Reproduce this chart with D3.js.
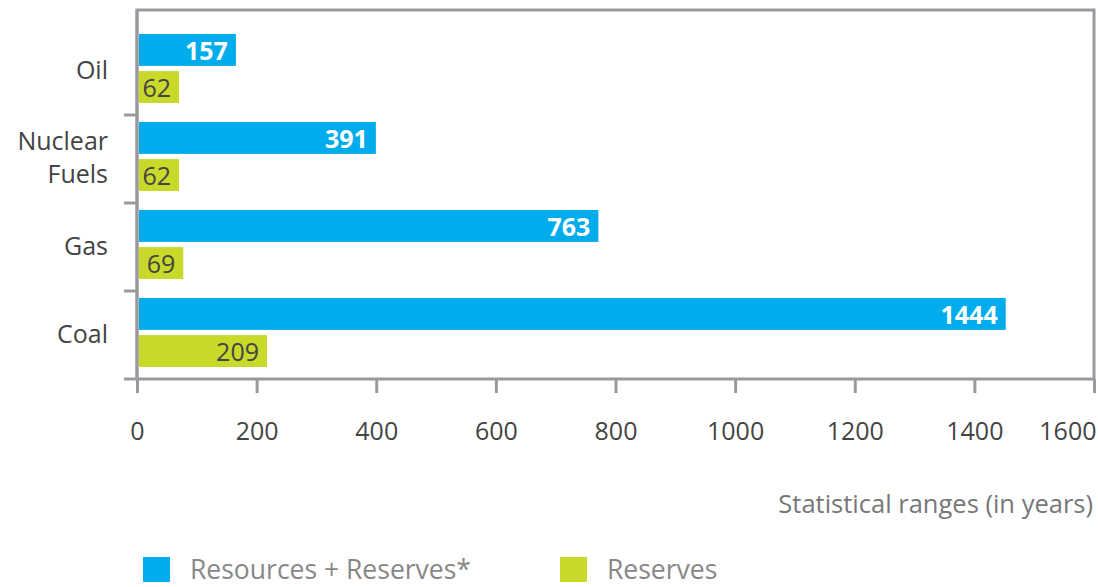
<!DOCTYPE html>
<html>
<head>
<meta charset="utf-8">
<script src="https://cdn.jsdelivr.net/npm/d3@7"></script>
<style>
  body { margin: 0; background: #fff; }
  svg text { font-family: "Open Sans", "Noto Sans", sans-serif; }
</style>
</head>
<body>
<div id="chart"></div>
<script>
// data
const categories = ['Oil', 'Nuclear Fuels', 'Gas', 'Coal'];
const categoryLines = [['Oil'], ['Nuclear', 'Fuels'], ['Gas'], ['Coal']];
const seriesNames = ['Resources + Reserves*', 'Reserves'];
const resourcesReserves = [157, 391, 763, 1444];
const reserves = [62, 62, 69, 209];
const xTicks = [0, 200, 400, 600, 800, 1000, 1200, 1400, 1600];
const axisTitle = 'Statistical ranges (in years)';

const colors = ['#00acec', '#c8d92a'];
const width = 1098, height = 587;
const plotLeft = 137, plotRight = 1094, plotTop = 27, plotBottom = 379;

const svg = d3.select('#chart').append('svg')
    .attr('width', width)
    .attr('height', height);

const x = d3.scaleLinear().domain([0, 1600]).range([plotLeft, plotRight]);
const y = d3.scaleBand().domain(categories).range([plotTop, plotBottom]);
const sub = d3.scaleBand().domain(seriesNames)
    .range([7, y.bandwidth() - 12]).paddingInner(0.14);

// frame (top and right)
svg.append('path')
    .attr('d', `M${plotLeft},${plotBottom} V10 H${plotRight} V${plotBottom}`)
    .attr('fill', 'none')
    .attr('stroke', '#9a9a9e')
    .attr('stroke-width', 3);

const series = [resourcesReserves, reserves];

categories.forEach((cat, i) => {
    series.forEach((vals, s) => {
        const v = vals[i];
        const yy = y(cat) + sub(seriesNames[s]);
        svg.append('rect')
            .attr('x', x(0) + 2)
            .attr('y', yy)
            .attr('width', x(v) - x(0) + 3)
            .attr('height', sub.bandwidth())
            .attr('fill', colors[s]);
        svg.append('text')
            .attr('x', x(v) - 3)
            .attr('y', yy + sub.bandwidth() / 2 + 1)
            .attr('dy', '0.35em')
            .attr('text-anchor', 'end')
            .attr('fill', s === 0 ? '#fff' : '#444')
            .style('font-size', '25px')
            .style('font-weight', s === 0 ? 'bold' : 'normal')
            .text(v);
    });
});

// y axis
const yAxis = svg.append('g')
    .attr('transform', `translate(${plotLeft},0)`)
    .call(d3.axisLeft(y).tickSize(0).tickFormat(''));
yAxis.select('.domain').attr('stroke', '#9a9a9e').attr('stroke-width', 3)
    .attr('d', `M0,10V${plotBottom}`);
const sepTicks = categories.slice(1).map(c => y(c)).concat([plotBottom]);
yAxis.selectAll('.sep').data(sepTicks).join('line')
    .attr('class', 'sep')
    .attr('x1', -13).attr('x2', 0)
    .attr('y1', d => d).attr('y2', d => d)
    .attr('stroke', '#9a9a9e').attr('stroke-width', 3);

// category labels
categories.forEach((cat, i) => {
    const lines = categoryLines[i];
    const cy = y(cat) + y.bandwidth() / 2 - (lines.length - 1) * 16.5 - 1;
    lines.forEach((ln, j) => {
        svg.append('text')
            .attr('x', 108)
            .attr('y', cy + j * 33)
            .attr('dy', '0.35em')
            .attr('text-anchor', 'end')
            .attr('fill', '#444')
            .style('font-size', '25px')
            .text(ln);
    });
});

// x axis
const xAxis = svg.append('g')
    .attr('transform', `translate(0,${plotBottom})`)
    .call(d3.axisBottom(x).tickValues(xTicks).tickSize(14).tickPadding(29).tickFormat(d3.format('d')));
xAxis.select('.domain').attr('stroke', '#9a9a9e').attr('stroke-width', 3)
    .attr('d', `M${plotLeft},0H${plotRight}`);
xAxis.selectAll('.tick line').attr('stroke', '#9a9a9e').attr('stroke-width', 3);
xAxis.selectAll('.tick text')
    .attr('fill', '#444')
    .style('font-size', '25px')
    .style('font-family', '"Open Sans", "Noto Sans", sans-serif');
xAxis.selectAll('.tick text').filter(d => d === 1600)
    .attr('text-anchor', 'end').attr('x', 2);

svg.append('text')
    .attr('x', 1093)
    .attr('y', 513)
    .attr('text-anchor', 'end')
    .attr('fill', '#777')
    .style('font-size', '25.5px')
    .text(axisTitle);

// legend
const legendX = [143, 560];
seriesNames.forEach((name, s) => {
    svg.append('rect')
        .attr('x', legendX[s])
        .attr('y', 557)
        .attr('width', 27)
        .attr('height', 25)
        .attr('fill', colors[s]);
    svg.append('text')
        .attr('x', legendX[s] + 47)
        .attr('y', 579)
        .attr('fill', '#888')
        .style('font-size', '26.5px')
        .text(name);
});
</script>
</body>
</html>
